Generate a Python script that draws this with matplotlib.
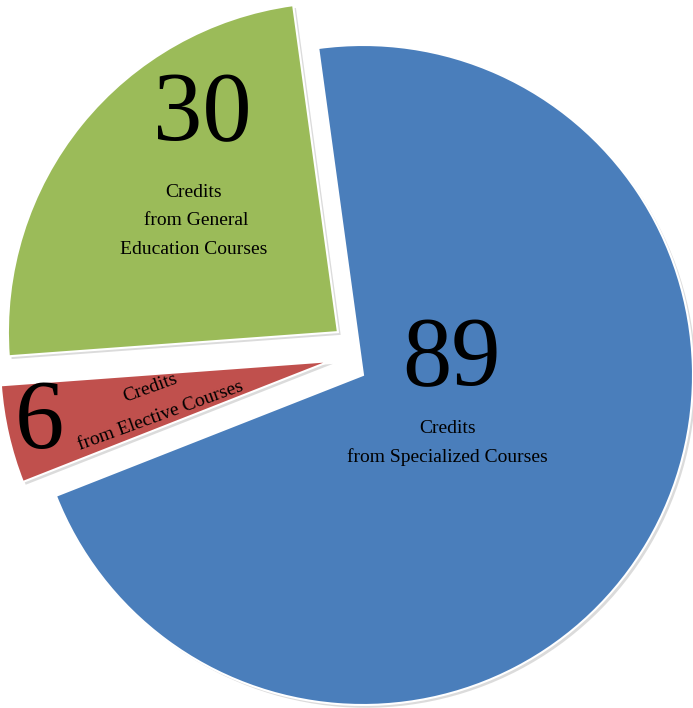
import matplotlib
matplotlib.use("Agg")
import matplotlib.pyplot as plt
import matplotlib.patheffects as pe

# data
categories = ["Specialized Courses", "Elective Courses", "General Education Courses"]
credits = [89, 6, 30]
captions = ["Credits\nfrom Specialized Courses",
            "Credits\nfrom Elective Courses",
            "Credits\n from General\nEducation Courses"]
colors = ["#4A7EBB", "#C0504D", "#9BBB59"]

# layout (radius units, blue slice centre at origin)
slice_shift = [(0.0, 0.0), (-0.100, 0.042), (-0.076, 0.130)]
number_pos = [(0.267, -0.030), (-0.979, -0.221), (-0.486, 0.712)]
# captions anchored at the baseline of their last line
caption_pos = [(0.255, -0.264), (-0.630, -0.082), (-0.512, 0.367)]
caption_rot = [0, 20, 0]
caption_spacing = [1.78, 2.0, 1.88]

W, H = 693, 708
R_PX = 330
CX, CY = 363, 375

plt.rcParams['font.family'] = ['Liberation Serif', 'DejaVu Serif']

fig = plt.figure(figsize=(W / 100, H / 100), dpi=100)
ax = fig.add_axes([0, 0, 1, 1])

wedges, _ = ax.pie(credits, colors=colors, startangle=97.8, counterclock=False,
                   radius=1.0, wedgeprops=dict(edgecolor='white', linewidth=1.5))
for w, s in zip(wedges, slice_shift):
    w.set_center(s)
    w.set_path_effects([pe.SimplePatchShadow(offset=(2, -2), shadow_rgbFace='0.6', alpha=0.35),
                        pe.Normal()])

# big numbers
for val, (x, y) in zip(credits, number_pos):
    ax.text(x, y, str(val), ha='center', va='baseline', fontsize=71, color='black')

# captions
for cap, (x, y), rot, ls in zip(captions, caption_pos, caption_rot, caption_spacing):
    if rot:
        ax.text(x, y, cap, ha='center', va='center', fontsize=14, rotation=rot,
                rotation_mode='anchor', multialignment='center', linespacing=ls)
    else:
        ax.text(x, y, cap, ha='center', va='baseline', fontsize=14,
                multialignment='center', linespacing=ls)

ax.set_xlim(-CX / R_PX, (W - CX) / R_PX)
ax.set_ylim(-(H - CY) / R_PX, CY / R_PX)
ax.set_aspect('auto')
ax.axis('off')

fig.savefig("out.png", dpi=100, facecolor='white')
